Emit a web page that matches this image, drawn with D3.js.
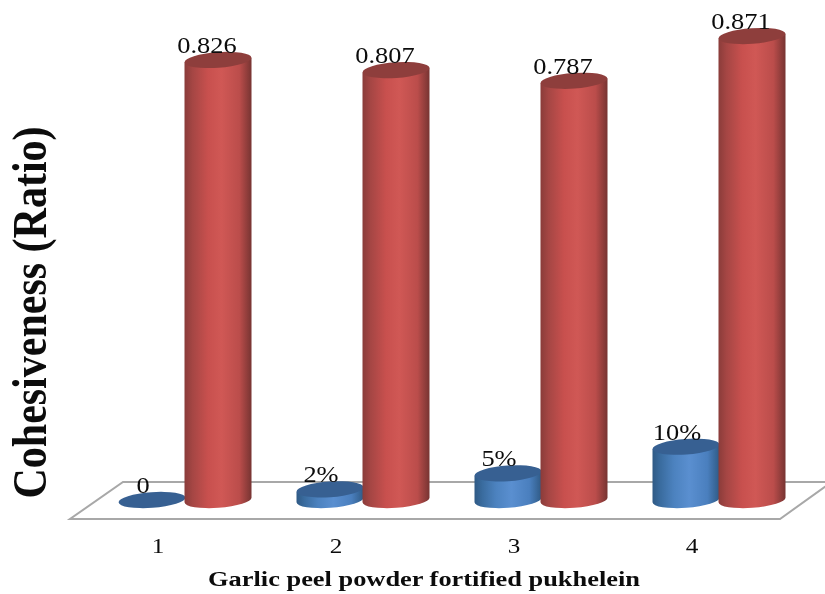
<!DOCTYPE html>
<html><head><meta charset="utf-8">
<style>html,body{margin:0;padding:0;background:#fff}svg{display:block;filter:blur(0.4px)}text{font-family:"Liberation Serif",serif;fill:#0c0c0c}</style>
<script src="https://cdn.jsdelivr.net/npm/d3@7"></script></head>
<body><div id="c"></div>
<script>
const categories = ["1","2","3","4"];
const seriesNames = ["level","cohesiveness"];
const levelValues = [0, 0.02, 0.05, 0.10];
const levelLabels = ["0","2%","5%","10%"];
const cohesivenessValues = [0.826, 0.807, 0.787, 0.871];
const cohesivenessLabels = ["0.826","0.807","0.787","0.871"];
const xTitle = "Garlic peel powder fortified pukhelein";
const yTitle = "Cohesiveness (Ratio)";

const W = 825, H = 594, stretch = 1.2;
const svg = d3.select("#c").append("svg").attr("width", W).attr("height", H);
const defs = svg.append("defs");
function grad(id, stops){
  const g = defs.append("linearGradient").attr("id", id);
  stops.forEach(([o,c]) => g.append("stop").attr("offset", o).attr("stop-color", c));
}
grad("g-level", [[0,"#2f5a85"],[0.12,"#3a6c9f"],[0.32,"#4c82bf"],[0.55,"#5a8fd0"],[0.82,"#4a7fbe"],[1,"#2f5a85"]]);
grad("g-cohesiveness", [[0,"#8a3c3a"],[0.12,"#a54644"],[0.35,"#c8504e"],[0.55,"#d05855"],[0.82,"#bb4d4b"],[1,"#773432"]]);
const tops = {level:"#376092", cohesiveness:"#8e3e3c"};

const x = d3.scaleBand().domain(categories).range([69, 781]);
const x1 = d3.scaleBand().domain(seriesNames).range([-39, 93]);
const y = d3.scaleLinear().domain([0, 1]).range([500, -32.7]);

// floor
const floorBack = 482, floorFront = 519;
svg.append("path")
  .attr("d", `M833,${floorBack}L123,${floorBack}L70,${floorFront}L780,${floorFront}L833,${floorBack-1}`)
  .attr("fill","none").attr("stroke","#a8a8a8").attr("stroke-width",2);

const rx = x1.bandwidth()/2 + 0.5, ry = 7.8, tilt = -4;
const dy = rx*Math.sin(-tilt*Math.PI/180);
const rows = [];
categories.forEach((c,i)=>{
  rows.push({c, s:"level", v:levelValues[i], t:levelLabels[i], dx:-9, dyL:-7});
  rows.push({c, s:"cohesiveness", v:cohesivenessValues[i], t:cohesivenessLabels[i], dx:-11, dyL:-7});
});
const cx = d => x(d.c) + x.bandwidth()/2 + x1(d.s) + x1.bandwidth()/2;

const bars = svg.selectAll("g.bar").data(rows).join("g").attr("class","bar");
bars.filter(d=>d.v>0).append("path")
  .attr("fill", d=>`url(#g-${d.s})`)
  .attr("d", d=>{
    const c=cx(d), t=y(d.v), b=y(0);
    return `M${c-rx},${t+dy}L${c-rx},${b+dy}A${rx},${ry} ${tilt} 0 0 ${c+rx},${b-dy}L${c+rx},${t-dy}Z`;
  });
bars.append("ellipse")
  .attr("rx",rx).attr("ry",ry).attr("fill",d=>tops[d.s])
  .attr("transform",d=>`translate(${cx(d)},${y(d.v)}) rotate(${tilt})`);

svg.selectAll("text.val").data(rows).join("text").attr("class","val")
  .attr("transform",d=>`translate(${cx(d)+d.dx},${y(d.v)+d.dyL}) scale(1.1,1)`)
  .attr("text-anchor","middle").attr("font-size",24).text(d=>d.t);

svg.selectAll("text.cat").data(categories).join("text").attr("class","cat")
  .attr("transform",d=>`translate(${x(d)+x.bandwidth()/2},553) scale(${stretch},1)`)
  .attr("text-anchor","middle").attr("font-size",21).text(d=>d);

svg.append("text").attr("transform",`translate(424,586) scale(${stretch},1)`).attr("text-anchor","middle")
  .attr("font-size",22).attr("font-weight","bold").text(xTitle);

svg.append("text").attr("transform",`translate(46,312.5) rotate(-90) scale(1,1.15)`).attr("text-anchor","middle")
  .attr("font-size",42).attr("font-weight","bold").text(yTitle);
</script></body></html>
